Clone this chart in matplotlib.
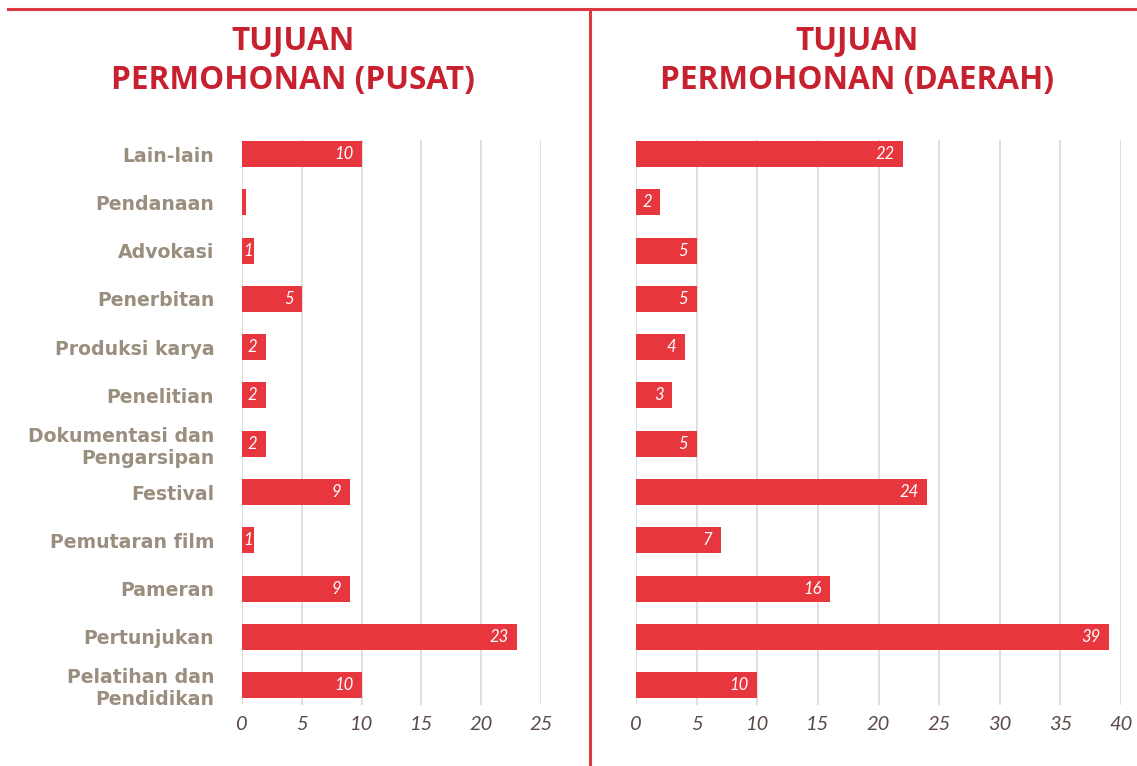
import numpy as np
import matplotlib
matplotlib.use('Agg')
from matplotlib import pyplot as plt
from matplotlib.lines import Line2D

categories = ['Lain-lain', 'Pendanaan', 'Advokasi', 'Penerbitan', 'Produksi karya',
              'Penelitian', 'Dokumentasi dan\nPengarsipan', 'Festival', 'Pemutaran film',
              'Pameran', 'Pertunjukan', 'Pelatihan dan\nPendidikan']
pusat = [10, 0.3, 1, 5, 2, 2, 2, 9, 1, 9, 23, 10]
daerah = [22, 2, 5, 5, 4, 3, 5, 24, 7, 16, 39, 10]
pusat_ticks = [0, 5, 10, 15, 20, 25]
daerah_ticks = [0, 5, 10, 15, 20, 25, 30, 35, 40]

bar_color = '#e8363f'
title_color = '#c7202e'
label_color = '#9a8f7e'
tick_color = '#5a4a48'
line_color = '#dc3a40'

W, H = 1137, 766
fig = plt.figure(figsize=(W / 100, H / 100), dpi=100)
fig.patch.set_facecolor('white')

# frame lines
fig.add_artist(Line2D([8 / W, 1], [1 - 9 / H, 1 - 9 / H], color=line_color, lw=2.2))
fig.add_artist(Line2D([590 / W, 590 / W], [0, 1 - 10 / H], color=line_color, lw=2.2))


def panel(rect, values, ticks, title, cx, show_labels):
    ax = fig.add_axes(rect)
    y = np.arange(len(categories))
    ax.barh(y, values, height=0.54, color=bar_color, zorder=3)
    for yi, v in zip(y, values):
        if v < 1:
            continue
        if v <= 1:
            ax.text(v / 2, yi, f'{v:g}', ha='center', va='center', color='white',
                    fontsize=12, fontstyle='italic', family='Lato', zorder=4)
        else:
            ax.annotate(f'{v:g}', (v, yi), xytext=(-6, 0), textcoords='offset points',
                        ha='right', va='center', color='white', fontsize=12,
                        fontstyle='italic', family='Lato', zorder=4)
    ax.set_xlim(0, ticks[-1])
    ax.set_ylim(11.41, -0.29)
    ax.set_xticks(ticks)
    ax.set_xticklabels([str(t) for t in ticks], fontsize=14.5, fontstyle='italic',
                       family='Lato', color=tick_color)
    ax.xaxis.grid(True, color='#d9d9d9', lw=1.2, zorder=0)
    ax.tick_params(axis='x', length=0, pad=8)
    ax.set_yticks(y)
    if show_labels:
        ax.set_yticklabels(categories, fontsize=13.6, fontweight='bold', family='DejaVu Sans',
                           color=label_color, linespacing=1.2)
        ax.tick_params(axis='y', length=0, pad=20)
    else:
        ax.set_yticklabels([])
        ax.tick_params(axis='y', length=0)
    for s in ax.spines.values():
        s.set_visible(False)
    fig.text(cx / W, 1 - 41 / H, 'TUJUAN', ha='center', va='center', fontsize=22.7,
             fontweight='bold', family='Open Sans', color=title_color)
    fig.text(cx / W, 1 - 81 / H, title, ha='center', va='center', fontsize=22.7,
             fontweight='bold', family='Open Sans', color=title_color)
    return ax


bottom = 1 - 705 / H
height = (705 - 140) / H
panel([242 / W, bottom, (541 - 242) / W, height], pusat, pusat_ticks,
      'PERMOHONAN (PUSAT)', 293, True)
panel([636 / W, bottom, (1121 - 636) / W, height], daerah, daerah_ticks,
      'PERMOHONAN (DAERAH)', 857, False)

fig.savefig('out.png', dpi=100, facecolor='white')
